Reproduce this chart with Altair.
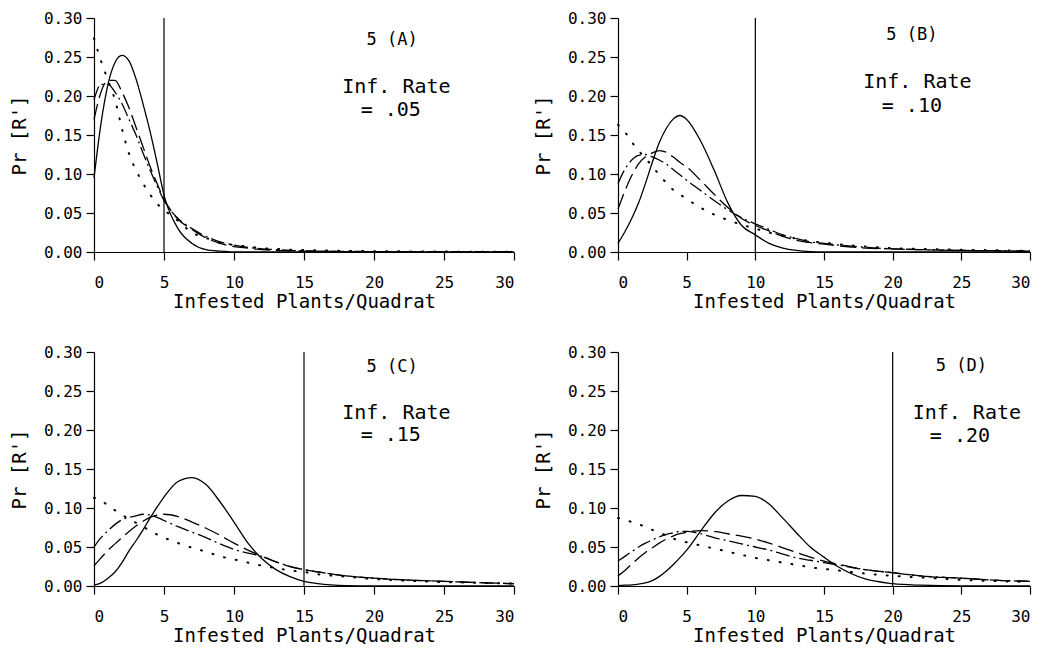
import altair as alt
import pandas as pd

# common x grid (infested plants per quadrat)
X = [0, 0.5, 1, 1.5, 2, 2.5, 3, 3.5, 4, 4.5, 5, 6, 7, 8, 9, 10, 11, 12, 13, 14, 15, 16, 18, 20, 22, 25, 28, 30]

# Panel 5(A)  Inf. Rate = .05
A_solid   = [0.095, 0.165, 0.215, 0.243, 0.252, 0.245, 0.222, 0.19, 0.155, 0.115, 0.073, 0.03, 0.011, 0.003, 0.001, 0, 0, 0, 0, 0, 0, 0, 0, 0, 0, 0, 0, 0]
A_dash    = [0.17, 0.205, 0.22, 0.22, 0.205, 0.185, 0.16, 0.135, 0.11, 0.088, 0.068, 0.042, 0.029, 0.018, 0.011, 0.007, 0.005, 0.003, 0.002, 0.0015, 0.001, 0.001, 0.0005, 0.0003, 0.0002, 0.0001, 0, 0]
A_dashdot = [0.195, 0.215, 0.215, 0.205, 0.19, 0.17, 0.15, 0.127, 0.105, 0.085, 0.066, 0.043, 0.03, 0.02, 0.013, 0.009, 0.006, 0.004, 0.003, 0.002, 0.0015, 0.001, 0.0008, 0.0005, 0.0003, 0.0002, 0.0001, 0]
A_dotted  = [0.274, 0.245, 0.22, 0.195, 0.158, 0.126, 0.105, 0.088, 0.074, 0.062, 0.054, 0.04, 0.025, 0.018, 0.012, 0.009, 0.007, 0.005, 0.004, 0.003, 0.0025, 0.002, 0.0015, 0.001, 0.0008, 0.0005, 0.0003, 0.0002]

# Panel 5(B)  Inf. Rate = .10
B_solid   = [0.011, 0.026, 0.043, 0.063, 0.088, 0.115, 0.14, 0.158, 0.17, 0.175, 0.17, 0.143, 0.105, 0.063, 0.034, 0.022, 0.011, 0.005, 0.002, 0.0005, 0, 0, 0, 0, 0, 0, 0, 0]
B_dash    = [0.055, 0.078, 0.098, 0.113, 0.122, 0.127, 0.13, 0.128, 0.122, 0.115, 0.109, 0.092, 0.074, 0.057, 0.043, 0.034, 0.027, 0.02, 0.015, 0.012, 0.01, 0.008, 0.005, 0.004, 0.003, 0.002, 0.0015, 0.001]
B_dashdot = [0.088, 0.106, 0.118, 0.124, 0.125, 0.122, 0.118, 0.113, 0.106, 0.099, 0.092, 0.079, 0.066, 0.054, 0.044, 0.036, 0.029, 0.022, 0.017, 0.013, 0.011, 0.009, 0.006, 0.004, 0.003, 0.002, 0.0015, 0.001]
B_dotted  = [0.163, 0.154, 0.141, 0.13, 0.12, 0.11, 0.099, 0.089, 0.08, 0.074, 0.068, 0.057, 0.048, 0.041, 0.035, 0.03, 0.025, 0.021, 0.017, 0.014, 0.012, 0.01, 0.007, 0.005, 0.004, 0.003, 0.002, 0.0015]

# Panel 5(C)  Inf. Rate = .15
C_solid   = [0.001, 0.004, 0.01, 0.018, 0.03, 0.045, 0.058, 0.072, 0.087, 0.101, 0.114, 0.134, 0.139, 0.13, 0.108, 0.082, 0.055, 0.035, 0.021, 0.012, 0.006, 0.003, 0.0005, 0, 0, 0, 0, 0]
C_dash    = [0.026, 0.036, 0.046, 0.054, 0.062, 0.07, 0.077, 0.083, 0.088, 0.091, 0.092, 0.089, 0.082, 0.074, 0.065, 0.055, 0.046, 0.038, 0.031, 0.025, 0.021, 0.018, 0.013, 0.01, 0.008, 0.006, 0.004, 0.003]
C_dashdot = [0.05, 0.062, 0.071, 0.079, 0.085, 0.088, 0.09, 0.092, 0.091, 0.088, 0.084, 0.076, 0.069, 0.062, 0.054, 0.047, 0.042, 0.038, 0.031, 0.025, 0.021, 0.018, 0.013, 0.01, 0.008, 0.006, 0.004, 0.003]
C_dotted  = [0.113, 0.11, 0.103, 0.097, 0.091, 0.086, 0.081, 0.076, 0.071, 0.066, 0.062, 0.055, 0.049, 0.044, 0.038, 0.034, 0.03, 0.026, 0.023, 0.02, 0.018, 0.015, 0.012, 0.009, 0.007, 0.005, 0.004, 0.003]

# Panel 5(D)  Inf. Rate = .20
D_solid   = [0.0005, 0.001, 0.0015, 0.0025, 0.004, 0.007, 0.012, 0.019, 0.027, 0.036, 0.046, 0.07, 0.093, 0.109, 0.116, 0.115, 0.105, 0.087, 0.068, 0.05, 0.037, 0.025, 0.009, 0.003, 0.001, 0, 0, 0]
D_dash    = [0.013, 0.02, 0.028, 0.036, 0.043, 0.049, 0.055, 0.06, 0.064, 0.067, 0.069, 0.071, 0.07, 0.067, 0.064, 0.06, 0.055, 0.049, 0.043, 0.037, 0.032, 0.028, 0.021, 0.017, 0.013, 0.01, 0.007, 0.006]
D_dashdot = [0.032, 0.038, 0.044, 0.05, 0.055, 0.059, 0.063, 0.066, 0.068, 0.07, 0.07, 0.067, 0.062, 0.058, 0.054, 0.05, 0.046, 0.041, 0.036, 0.033, 0.03, 0.027, 0.021, 0.017, 0.013, 0.01, 0.007, 0.006]
D_dotted  = [0.087, 0.085, 0.082, 0.079, 0.076, 0.072, 0.068, 0.065, 0.061, 0.058, 0.056, 0.052, 0.048, 0.044, 0.04, 0.036, 0.033, 0.03, 0.027, 0.024, 0.022, 0.02, 0.016, 0.013, 0.011, 0.008, 0.006, 0.005]

PANEL_TAGS = ["5 (A)", "5 (B)", "5 (C)", "5 (D)"]
RATES = ["= .05", "= .10", "= .15", "= .20"]
VLINES = [5, 10, 15, 20]
SERIES = [
    [A_solid, A_dash, A_dashdot, A_dotted],
    [B_solid, B_dash, B_dashdot, B_dotted],
    [C_solid, C_dash, C_dashdot, C_dotted],
    [D_solid, D_dash, D_dashdot, D_dotted],
]
# label anchor positions in data units: x of (tag, "Inf. Rate", rate) and y of the same
LABEL_X = [[21.3, 21.6, 21.2], [21.4, 21.8, 21.4], [21.3, 21.6, 21.2], [25.0, 25.4, 24.9]]
LABEL_Y = [[0.272, 0.212, 0.182], [0.278, 0.218, 0.187], [0.281, 0.222, 0.193], [0.282, 0.222, 0.192]]

X_TICKS = [0, 5, 10, 15, 20, 25, 30]
Y_TICKS = [0.0, 0.05, 0.10, 0.15, 0.20, 0.25, 0.30]

FONT = "DejaVu Sans Mono"
STYLES = [
    ("solid", None, 1.3),
    ("dash", [16, 6], 1.3),
    ("dashdot", [14, 4, 2, 4], 1.3),
    ("dotted", [1, 11], 2.0),
]
WIDTHS = [420, 412, 420, 412]
HEIGHT = 234

X_AXIS = alt.Axis(values=X_TICKS, title="Infested Plants/Quadrat", format="d", labelOverlap=False)
Y_AXIS = alt.Axis(values=Y_TICKS, format=".2f", title="Pr [R']", labelOverlap=False, tickCount=7)
X_SCALE = alt.Scale(domain=[0, 30], nice=False)
Y_SCALE = alt.Scale(domain=[0, 0.30], nice=False)


def make_panel(i):
    rows = []
    for (name, _, _), ys in zip(STYLES, SERIES[i]):
        for xv, yv in zip(X, ys):
            rows.append({"x": xv, "y": yv, "s": name})
    df = pd.DataFrame(rows)
    xenc = alt.X("x:Q", scale=X_SCALE, axis=X_AXIS)
    yenc = alt.Y("y:Q", scale=Y_SCALE, axis=Y_AXIS)
    layers = []
    for name, dash, sw in STYLES:
        kw = dict(color="black", strokeWidth=sw, interpolate="monotone")
        if dash:
            kw["strokeDash"] = dash
        if name == "dotted":
            kw["strokeCap"] = "round"
        layers.append(
            alt.Chart(df).transform_filter(alt.datum.s == name).mark_line(**kw).encode(x=xenc, y=yenc)
        )
    rule = alt.Chart(pd.DataFrame({"x": [VLINES[i]]})).mark_rule(color="black", strokeWidth=1.2).encode(x=xenc)
    tdf = pd.DataFrame({
        "x": LABEL_X[i],
        "y": LABEL_Y[i],
        "t": [PANEL_TAGS[i], "Inf. Rate", RATES[i]],
        "fs": [17, 20, 20],
    })
    text = alt.Chart(tdf).mark_text(font=FONT, color="black", align="center", baseline="middle").encode(
        x=xenc, y=yenc, text="t:N", size=alt.Size("fs:Q", scale=None, legend=None)
    )
    return alt.layer(*layers, rule, text).properties(width=WIDTHS[i], height=HEIGHT)


row1 = alt.hconcat(make_panel(0), make_panel(1), spacing=16)
row2 = alt.hconcat(make_panel(2), make_panel(3), spacing=16)
chart = alt.vconcat(row1, row2, spacing=33).properties(
    padding={"left": 2, "top": 2, "right": 0, "bottom": 0}
).configure_view(stroke=None).configure_axis(
    grid=False,
    domainColor="black", tickColor="black", labelColor="black", titleColor="black",
    domainWidth=1.2, tickWidth=1.2, tickSize=8,
    labelFont=FONT, titleFont=FONT, labelFontSize=16, titleFontSize=19,
    titleFontWeight="normal", labelPadding=4, labelOverlap=False,
).configure_axisX(labelPadding=14, titlePadding=2).configure_axisY(titlePadding=14, labelPadding=4)

chart.save("out.html", embed_options={"renderer": "svg", "actions": False})
